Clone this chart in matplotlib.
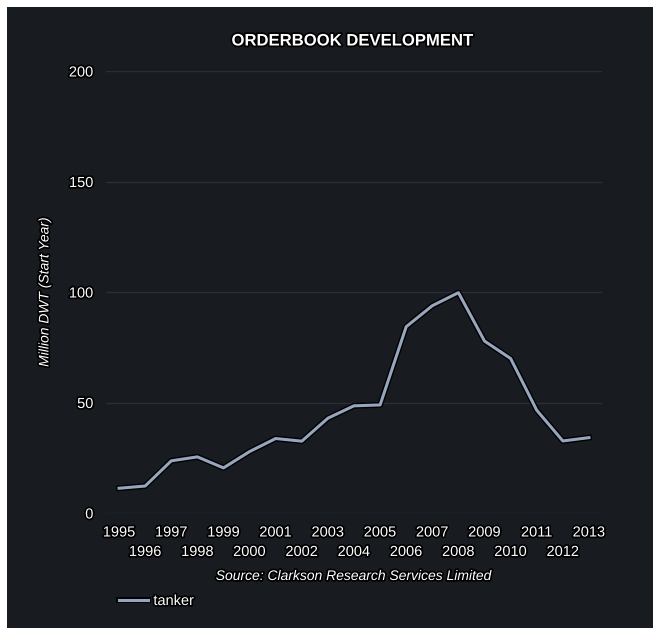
import matplotlib.pyplot as plt
import matplotlib.patheffects as pe
from matplotlib.patches import Rectangle

plt.rcParams['font.family'] = ['Liberation Sans', 'DejaVu Sans']

years = [str(y) for y in range(1995, 2014)]
tanker = [11.2, 12.2, 23.6, 25.4, 20.4, 27.8, 33.7, 32.5, 42.9, 48.5,
          48.9, 84.3, 93.8, 99.7, 77.8, 69.9, 46.5, 32.6, 34.1]
y_ticks = [0, 50, 100, 150, 200]

BG = '#181b20'
GRID = '#2a2e36'
LINE = '#97a5bd'

# white text with a dark halo, like the rest of the dashboard
halo = [pe.withStroke(linewidth=2.5, foreground='black')]

fig = plt.figure(figsize=(6.53, 6.28), dpi=100, facecolor='white')
fig.patches.append(Rectangle((7 / 653, 0), 1, 1 - 7 / 628, transform=fig.transFigure,
                             facecolor=BG, edgecolor='none', zorder=-10))

ax = fig.add_axes([106 / 653, 1 - 513 / 628, 496 / 653, 442 / 628])
ax.patch.set_alpha(0)

x = list(range(len(years)))
ax.plot(x, tanker, color=LINE, lw=2.2,
        path_effects=[pe.Stroke(linewidth=4.2, foreground='black'), pe.Normal()],
        label='tanker', zorder=3)

ax.set_xlim(-0.5, len(years) - 0.5)
ax.set_ylim(0, 200)
ax.set_yticks(y_ticks)
ax.set_yticklabels([str(v) for v in y_ticks])
for v in y_ticks:
    ax.axhline(v, color=GRID, lw=1, zorder=1)

# staggered year labels: even positions on the first row, odd ones below
ax.set_xticks(x[0::2])
ax.set_xticklabels(years[0::2])
ax.set_xticks(x[1::2], minor=True)
ax.set_xticklabels(years[1::2], minor=True)
ax.tick_params(axis='both', which='both', length=0, colors='white', labelsize=10.5)
ax.tick_params(axis='x', which='major', pad=9)
ax.tick_params(axis='x', which='minor', pad=23)
ax.tick_params(axis='y', pad=9)
labels = (ax.get_xticklabels() + ax.get_xticklabels(minor=True)
          + ax.get_yticklabels())
for lab in labels:
    lab.set_path_effects(halo)

for s in ax.spines.values():
    s.set_visible(False)

ax.set_ylabel('Million DWT (Start Year)', color='white', fontsize=10,
              style='italic', path_effects=halo)
ax.yaxis.set_label_coords(-0.11, 0.5)

fig.text(352 / 653, 1 - 41 / 628, 'ORDERBOOK DEVELOPMENT', color='white',
         fontsize=12, fontweight='bold', ha='center', va='center',
         path_effects=halo)
fig.text(354 / 653, 1 - 576 / 628, 'Source: Clarkson Research Services Limited',
         color='white', fontsize=10, style='italic', ha='center', va='center',
         path_effects=halo)

leg = fig.legend(loc='center left', bbox_to_anchor=(106 / 653, 1 - 601 / 628),
                 frameon=False, fontsize=10.5, handlelength=2.0, handletextpad=0.35)
for t in leg.get_texts():
    t.set_color('white')
    t.set_path_effects(halo)

fig.savefig('out.png', dpi=100, facecolor=fig.get_facecolor())
